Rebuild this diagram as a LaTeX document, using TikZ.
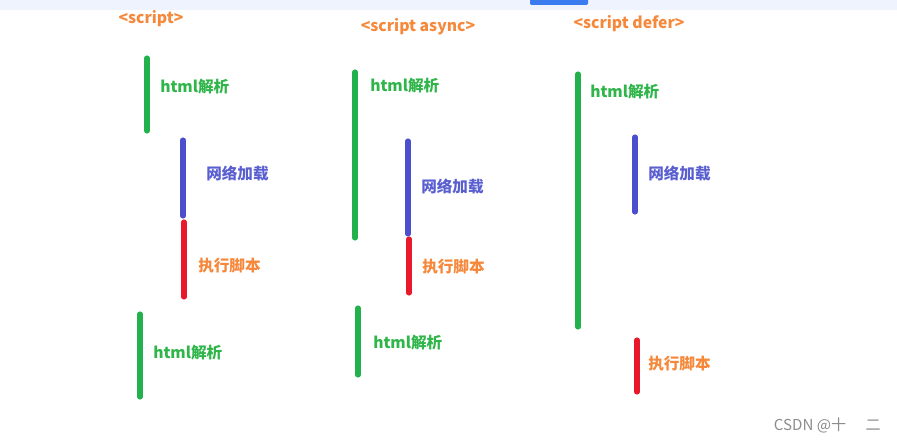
\documentclass[tikz,border=0pt]{standalone}
\usepackage{fontspec}
\setmainfont{Noto Sans CJK SC}
\newfontfamily\cjk{Noto Sans CJK SC}
\usepackage{tikz}
\definecolor{parsegreen}{HTML}{22B14C}
\definecolor{loadblue}{HTML}{4B4FCE}
\definecolor{runred}{HTML}{E8192C}
\definecolor{titleorange}{HTML}{F5883A}
\definecolor{txtgreen}{HTML}{2FB54A}
\definecolor{txtblue}{HTML}{5A5FD0}
\definecolor{bandblue}{HTML}{EEF3FD}
\definecolor{btnblue}{HTML}{3A7BF0}

\begin{document}
\begin{tikzpicture}[x=0.75pt, y=-0.75pt,
    bar/.style={line width=3.8pt, line cap=round},
    lbl/.style={anchor=west, inner sep=0pt, font=\cjk\bfseries\fontsize{11.7}{13}\selectfont},
    ttl/.style={inner sep=0pt, text=titleorange, font=\cjk\bfseries\fontsize{11.8}{13}\selectfont}]
    \useasboundingbox (0,0) rectangle (897,442);
    % top strip of the page
    \fill[bandblue] (0,0) rectangle (897,10);
    \fill[btnblue, rounded corners=1pt] (530,-3) rectangle (588,5);

    % LEFT: plain script
    \node[ttl] (t1) at (151,19) {<script>};
    \draw[bar, parsegreen] (147,58) -- (147,131);
    \node[lbl, text=txtgreen] (p1) at (160,87) {html解析};
    \draw[bar, loadblue] (183,140) -- (183,216);
    \node[lbl, text=txtblue] (l1) at (206,174) {网络加载};
    \draw[bar, runred] (184,222) -- (184,297);
    \node[lbl, text=titleorange] (r1) at (198,266) {执行脚本};
    \draw[bar, parsegreen] (140,314) -- (140,397);
    \node[lbl, text=txtgreen] (q1) at (153,353) {html解析};

    % MIDDLE: async
    \node[ttl] (t2) at (418,27) {<script async>};
    \draw[bar, parsegreen] (355,72) -- (355,238);
    \node[lbl, text=txtgreen] (p2) at (370,86) {html解析};
    \draw[bar, loadblue] (408,141) -- (408,234);
    \node[lbl, text=txtblue] (l2) at (421,187) {网络加载};
    \draw[bar, runred] (409,239) -- (409,293);
    \node[lbl, text=titleorange] (r2) at (422,267) {执行脚本};
    \draw[bar, parsegreen] (358,308) -- (358,375);
    \node[lbl, text=txtgreen] (q2) at (373,343) {html解析};

    % RIGHT: defer
    \node[ttl] (t3) at (629,24) {<script defer>};
    \draw[bar, parsegreen] (578,74) -- (578,327);
    \node[lbl, text=txtgreen] (p3) at (590,92) {html解析};
    \draw[bar, loadblue] (635,137) -- (635,212);
    \node[lbl, text=txtblue] (l3) at (648,174) {网络加载};
    \draw[bar, runred] (637,340) -- (637,392);
    \node[lbl, text=titleorange] (r3) at (648,364) {执行脚本};

    % watermark
    \node[anchor=east, inner sep=0pt, text=black!45, font=\cjk\fontsize{11.3}{13}\selectfont] (wm) at (881,425) {CSDN @十\hspace{1.3em}二};
\end{tikzpicture}
\end{document}
